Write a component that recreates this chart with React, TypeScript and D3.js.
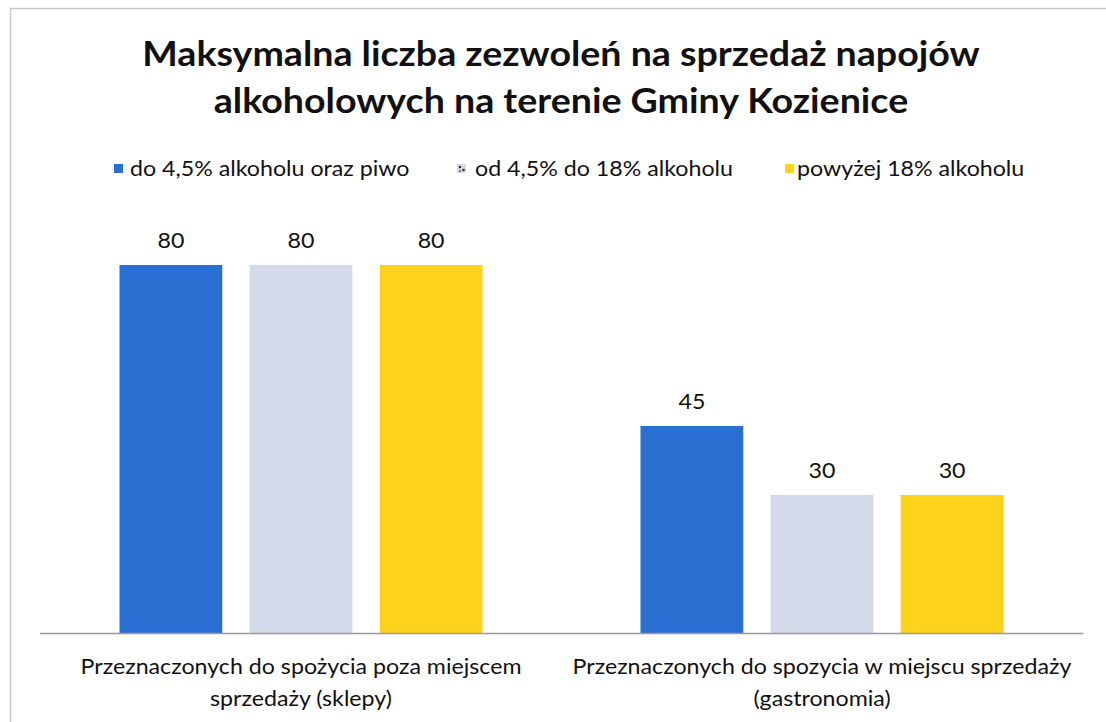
import React from "react";
import * as d3 from "d3";

const categories = [
  ["Przeznaczonych do spożycia poza miejscem", "sprzedaży (sklepy)"],
  ["Przeznaczonych do spozycia w miejscu sprzedaży", "(gastronomia)"],
];
const seriesNames = ["do 4,5% alkoholu oraz piwo", "od 4,5% do 18% alkoholu", "powyżej 18% alkoholu"];
const seriesColors = ["#2a6fd2", "#d4dae9", "#ffd31c"];
const valuesShops = [80, 80, 80];
const valuesGastro = [45, 30, 30];
const titleLines = ["Maksymalna liczba zezwoleń na sprzedaż napojów", "alkoholowych na terenie Gminy Kozienice"];

const W = 1106, H = 722;
const FONT = "Lato, 'Open Sans', sans-serif";
const SX = 1.105;

export default function App() {
  const data = [valuesShops, valuesGastro];
  const x0 = d3.scaleBand<number>().domain([0, 1]).range([40.5, 1082.5]).paddingInner(0).paddingOuter(0);
  const x1 = d3.scaleBand<number>().domain([0, 1, 2]).range([0, 363]).paddingInner(0.21).paddingOuter(0);
  const y = d3.scaleLinear().domain([0, 80]).range([633, 265]);
  const groupOffset = (x0.bandwidth() - 363) / 2;

  const legendItems = [
    { sx: 114, tx: 130 },
    { sx: 457, tx: 475 },
    { sx: 785, tx: 797 },
  ];

  return (
    <svg width={W} height={H} style={{ position: "absolute", left: 0, top: 0, background: "#fff" }} fontFamily={FONT}>
      <rect x={10.5} y={8.5} width={1100} height={720} fill="none" stroke="#c8c8c8" strokeWidth={1.5} />
      {titleLines.map((t, i) => (
        <text key={i} transform={`translate(561,${66 + i * 47}) scale(${SX},1)`} textAnchor="middle" fontSize={34} fontWeight={700} fill="#111">{t}</text>
      ))}
      {seriesNames.map((n, i) => (
        <g key={n}>
          {i === 1 ? (
            <g>
              <rect x={legendItems[i].sx} y={164} width={9} height={9} fill={seriesColors[i]} />
              <circle cx={legendItems[i].sx + 3} cy={167} r={1.3} fill="#333" />
              <circle cx={legendItems[i].sx + 6.5} cy={170} r={1.3} fill="#333" />
              <circle cx={legendItems[i].sx + 3} cy={171} r={1} fill="#555" />
            </g>
          ) : (
            <rect x={legendItems[i].sx} y={164} width={9} height={9} fill={seriesColors[i]} />
          )}
          <text transform={`translate(${legendItems[i].tx},176) scale(${SX},1)`} fontSize={21} fill="#111">{n}</text>
        </g>
      ))}
      {data.map((vals, g) => (
        <g key={g} transform={`translate(${(x0(g) as number) + groupOffset},0)`}>
          {vals.map((v, s) => (
            <g key={s}>
              <rect x={x1(s)} y={y(v)} width={x1.bandwidth()} height={y(0) - y(v)} fill={seriesColors[s]} />
              <text transform={`translate(${(x1(s) as number) + x1.bandwidth() / 2},${y(v) - 17}) scale(${SX},1)`} textAnchor="middle" fontSize={21} fill="#111">{v}</text>
            </g>
          ))}
        </g>
      ))}
      <line x1={40} x2={1083} y1={633.5} y2={633.5} stroke="#999" strokeWidth={1.5} />
      {categories.map((lines, g) =>
        lines.map((l, i) => (
          <text key={`${g}-${i}`} transform={`translate(${(x0(g) as number) + x0.bandwidth() / 2},${674 + i * 32}) scale(${SX},1)`} textAnchor="middle" fontSize={21} fill="#111">{l}</text>
        ))
      )}
    </svg>
  );
}
